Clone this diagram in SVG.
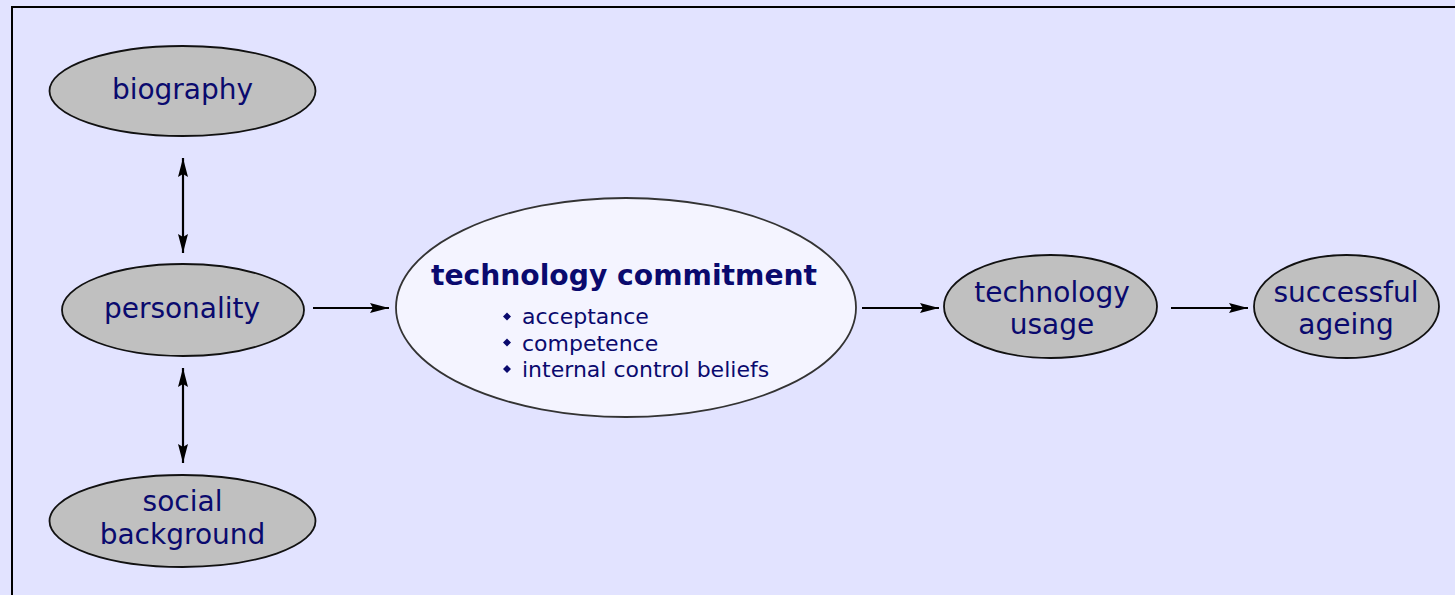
<svg xmlns="http://www.w3.org/2000/svg" width="1455" height="595" viewBox="0 0 1455 595">
<style>
.node ellipse{fill:#c0c0c0;stroke:#111;stroke-width:1.8}
#tc ellipse{fill:#f4f4ff;stroke:#333;stroke-width:1.8}
text{font-family:"DejaVu Sans",Verdana,sans-serif;fill:#0a0a6e;text-anchor:middle}
.lbl{font-size:28px}
.title{font-size:28.2px;font-weight:bold}
.bul{font-size:22px;text-anchor:start}
.conn line{stroke:#000;stroke-width:2.2}
</style>
<defs>
<marker id="ah" viewBox="0 0 19 10" refX="19" refY="5" markerWidth="19" markerHeight="10" markerUnits="userSpaceOnUse" orient="auto-start-reverse">
<path d="M0,0 L19,5 L0,10 L3,5 Z" fill="#000"/>
</marker>
</defs>
<rect x="0" y="0" width="1455" height="595" fill="#e2e3ff"/>
<rect x="12" y="7" width="1460" height="600" fill="none" stroke="#000" stroke-width="2"/>

<g id="biography" class="node">
<ellipse cx="182.5" cy="91" rx="133" ry="45"/>
<text class="lbl" x="182.5" y="99">biography</text>
</g>
<g id="personality" class="node">
<ellipse cx="183" cy="310" rx="121" ry="46"/>
<text class="lbl" x="182" y="318">personality</text>
</g>
<g id="social" class="node">
<ellipse cx="182.5" cy="521" rx="133" ry="46"/>
<text class="lbl" x="182.5" y="511">social</text>
<text class="lbl" x="182.5" y="544">background</text>
</g>
<g id="tc">
<ellipse cx="626" cy="307.5" rx="230" ry="109.5"/>
<text class="title" x="624" y="285">technology commitment</text>
<path d="M507,312.5 l4,4 l-4,4 l-4,-4 Z M507,338.5 l4,4 l-4,4 l-4,-4 Z M507,365 l4,4 l-4,4 l-4,-4 Z" fill="#0a0a6e"/>
<text class="bul" x="522" y="324">acceptance</text>
<text class="bul" x="522" y="351">competence</text>
<text class="bul" x="522" y="377">internal control beliefs</text>
</g>
<g id="usage" class="node">
<ellipse cx="1050.5" cy="306.5" rx="106.5" ry="51.5"/>
<text class="lbl" x="1052" y="302">technology</text>
<text class="lbl" x="1052" y="334">usage</text>
</g>
<g id="ageing" class="node">
<ellipse cx="1346.5" cy="306.5" rx="92.5" ry="51.5"/>
<text class="lbl" x="1346" y="302">successful</text>
<text class="lbl" x="1346" y="334">ageing</text>
</g>

<g id="connectors" class="conn">
<line x1="183" y1="158" x2="183" y2="253" marker-start="url(#ah)" marker-end="url(#ah)"/>
<line x1="183" y1="368" x2="183" y2="463" marker-start="url(#ah)" marker-end="url(#ah)"/>
<line x1="313" y1="308" x2="389" y2="308" marker-end="url(#ah)"/>
<line x1="862" y1="308" x2="939" y2="308" marker-end="url(#ah)"/>
<line x1="1171" y1="308" x2="1248" y2="308" marker-end="url(#ah)"/>
</g>
</svg>
